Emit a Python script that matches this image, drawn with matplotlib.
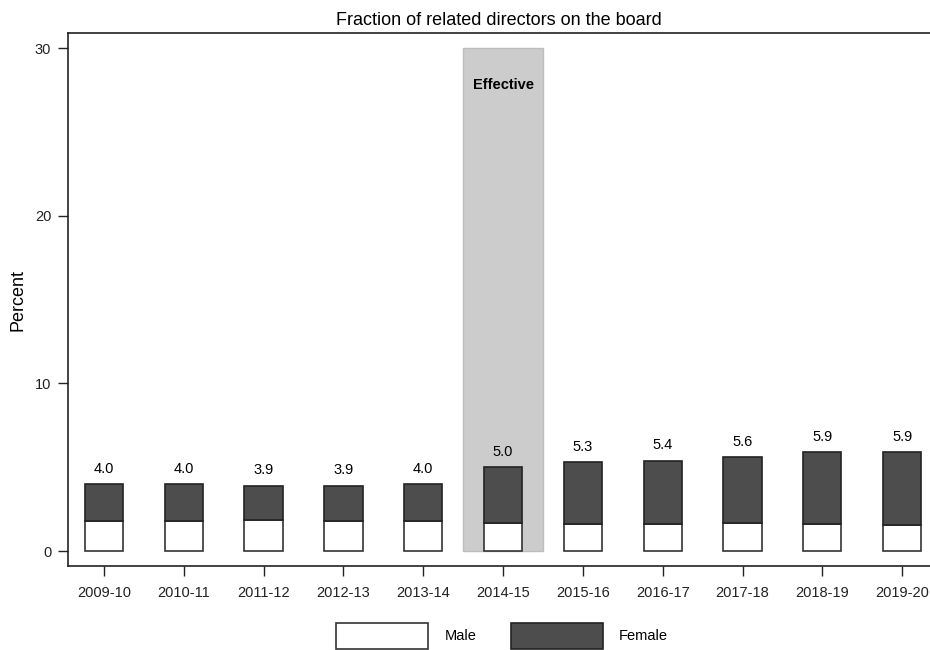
import numpy as np
import matplotlib
matplotlib.use('Agg')
import matplotlib.pyplot as plt

# Dane
years = ['2009-10', '2010-11', '2011-12', '2012-13', '2013-14', '2014-15',
         '2015-16', '2016-17', '2017-18', '2018-19', '2019-20']
male = [1.8, 1.8, 1.85, 1.8, 1.8, 1.7, 1.6, 1.6, 1.7, 1.6, 1.55]
female = [2.2, 2.2, 2.05, 2.1, 2.2, 3.3, 3.7, 3.8, 3.9, 4.3, 4.35]
totals = [4.0, 4.0, 3.9, 3.9, 4.0, 5.0, 5.3, 5.4, 5.6, 5.9, 5.9]
effective_year = '2014-15'

plt.rcParams['font.family'] = ['Liberation Sans', 'DejaVu Sans']

fig = plt.figure(figsize=(9.3, 6.5), dpi=100)
ax = fig.add_axes([0.0731, 0.129, 0.927, 0.82])

x = np.arange(len(years))
xe = years.index(effective_year)

# Zacieniony obszar "Effective"
ax.bar(xe, 30, width=1.0, color='#cccccc', edgecolor='#bdbdbd', linewidth=1, zorder=1)
ax.text(xe, 27.8, 'Effective', ha='center', va='center', fontsize=10.5,
        fontweight='bold', zorder=3)

ax.bar(x, male, width=0.48, color='white', edgecolor='#333333', linewidth=1.2,
       label='Male', zorder=2)
ax.bar(x, female, bottom=male, width=0.48, color='#4d4d4d', edgecolor='#222222',
       linewidth=1.2, label='Female', zorder=2)

for xi, t in zip(x, totals):
    ax.text(xi, t + 0.5, f'{t:.1f}', ha='center', va='bottom', fontsize=10.5)

ax.set_xlim(-0.45, 10.35)
ax.set_ylim(-0.9, 30.9)
ax.set_yticks([0, 10, 20, 30])
ax.set_xticks(x)
ax.set_xticklabels(years)
ax.tick_params(axis='both', labelsize=10.5, length=7, width=1, colors='#222222', pad=5)
ax.tick_params(axis='x', pad=7)
ax.set_ylabel('Percent', fontsize=13, labelpad=6)
ax.set_title('Fraction of related directors on the board', fontsize=13, pad=6)

ax.spines['right'].set_visible(False)
for s in ['left', 'bottom', 'top']:
    ax.spines[s].set_linewidth(1.2)
    ax.spines[s].set_color('#222222')

fig.legend(loc='lower center', bbox_to_anchor=(0.54, -0.018), ncol=2,
           frameon=False, fontsize=10.5, handlelength=6.3, handleheight=2.3,
           handletextpad=1.1, columnspacing=2.4)

fig.savefig('out.png', dpi=100)
